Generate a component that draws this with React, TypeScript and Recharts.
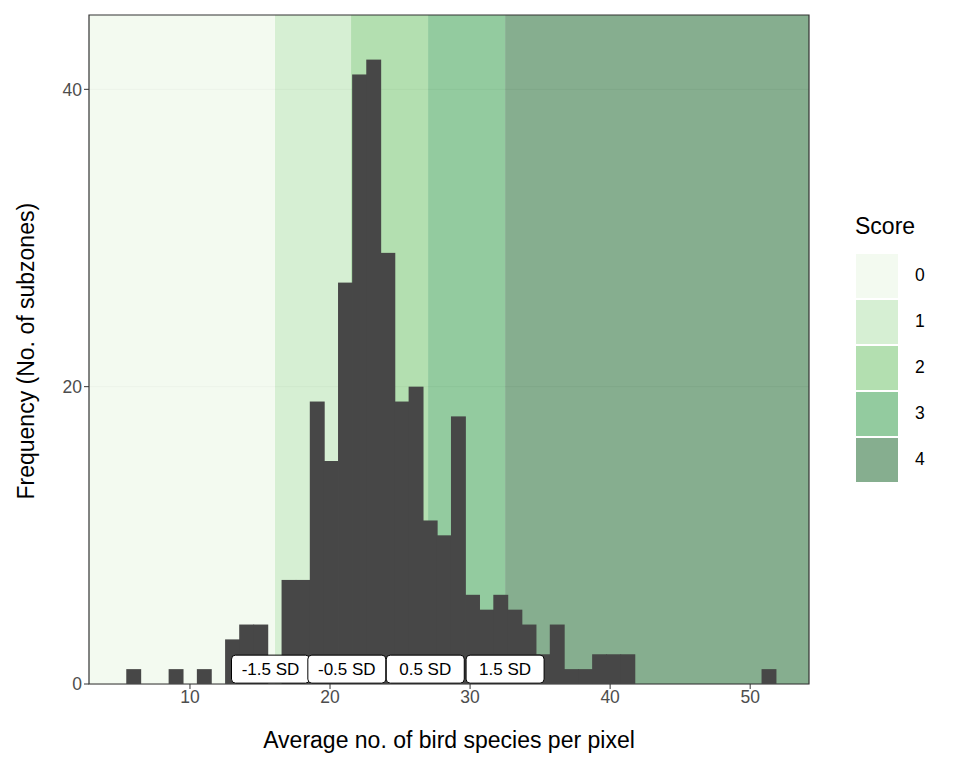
import React from "react";
import { ComposedChart, Bar, XAxis, YAxis, CartesianGrid, ReferenceArea, ReferenceDot } from "recharts";

const binStart = 5.48;
const binWidth = 1.008;
const counts = [1,0,0,1,0,1,0,3,4,4,0,7,7,19,15,27,41,42,29,19,20,11,10,18,6,5,6,5,4,2,4,1,1,2,2,2,0,0,0,0,0,0,0,0,0,1];
const bands = [
  { score: "0", x1: 2.79, x2: 16.07, fill: "#F0F9EC" },
  { score: "1", x1: 16.07, x2: 21.5, fill: "#CCEBC8" },
  { score: "2", x1: 21.5, x2: 27.0, fill: "#A0D79C" },
  { score: "3", x1: 27.0, x2: 32.5, fill: "#78BE87" },
  { score: "4", x1: 32.5, x2: 54.2, fill: "#689A73" },
];
const sdLabels = [
  { x: 15.75, text: "-1.5 SD" },
  { x: 21.2, text: "-0.5 SD" },
  { x: 26.8, text: "0.5 SD" },
  { x: 32.5, text: "1.5 SD" },
];
const xTicks = [10, 20, 30, 40, 50];
const yTicks = [0, 20, 40];

const data = counts.map((c, i) => ({ x: binStart + binWidth * (i + 0.5), count: c }));
const font = "'Liberation Sans', Arial, sans-serif";

const SdBox = (props: any) => {
  const { cx, cy } = props;
  const text = props.text;
  return (
    <g>
      <rect x={cx - 39} y={cy - 14} width={78} height={28} rx={4} fill="#fff" stroke="#000" strokeWidth={1} />
      <text x={cx} y={cy + 6} textAnchor="middle" fontSize={17} fontFamily={font} fill="#000">{text}</text>
    </g>
  );
};

const HistBar = (p: any) => {
  if (!p.height || p.height <= 0) return null;
  return <rect x={p.x - 0.4} y={p.y} width={p.width + 0.8} height={p.height} fill="#474747" />;
};

export default function App() {
  return (
    <div style={{ position: "absolute", left: 0, top: 0, width: 960, height: 768, fontFamily: font, background: "#fff" }}>
      <ComposedChart width={960} height={768} data={data} margin={{ top: 15, right: 151, left: 0, bottom: 0 }} barCategoryGap={0}>
        <CartesianGrid horizontal vertical={false} stroke="#DDDDDD" horizontalValues={yTicks} />
        {bands.map((b) => (
          <ReferenceArea key={b.score} x1={b.x1} x2={b.x2} y1={0} y2={45} fill={b.fill} fillOpacity={0.8} stroke="none" ifOverflow="visible" />
        ))}
        <XAxis type="number" dataKey="x" domain={[2.79, 54.2]} ticks={xTicks} height={84}
          tick={{ fontSize: 17.5, fill: "#4D4D4D", fontFamily: font }} tickSize={5}
          axisLine={false} tickLine={{ stroke: "#333" }}
          label={{ value: "Average no. of bird species per pixel", position: "insideBottom", offset: 20, fontSize: 23, fill: "#000", fontFamily: font }} />
        <YAxis type="number" domain={[0, 45]} ticks={yTicks} width={89}
          tick={{ fontSize: 17.5, fill: "#4D4D4D", fontFamily: font }} tickSize={5}
          axisLine={false} tickLine={{ stroke: "#333" }}
          label={{ value: "Frequency (No. of subzones)", angle: -90, position: "insideLeft", offset: 26, dy: 150, fontSize: 23, fill: "#000", fontFamily: font }} />
        <Bar dataKey="count" fill="#474747" barSize={14.1} shape={HistBar} isAnimationActive={false} />
        {sdLabels.map((l) => (
          <ReferenceDot key={l.text} x={l.x} y={1} r={0} ifOverflow="visible" shape={(p: any) => <SdBox {...p} text={l.text} />} />
        ))}
        <ReferenceArea x1={2.79} x2={54.2} y1={0} y2={45} fill="none" stroke="#333" strokeWidth={1.2} ifOverflow="visible" />
      </ComposedChart>
      <div style={{ position: "absolute", left: 855, top: 213, fontSize: 23, color: "#000" }}>Score</div>
      {bands.map((b, i) => (
        <div key={b.score} style={{ position: "absolute", left: 856, top: 254 + i * 46, width: 42, height: 44, background: b.fill, opacity: 0.8 }} />
      ))}
      {bands.map((b, i) => (
        <div key={"t" + b.score} style={{ position: "absolute", left: 915, top: 265 + i * 46, fontSize: 17.5, color: "#000" }}>{b.score}</div>
      ))}
    </div>
  );
}
